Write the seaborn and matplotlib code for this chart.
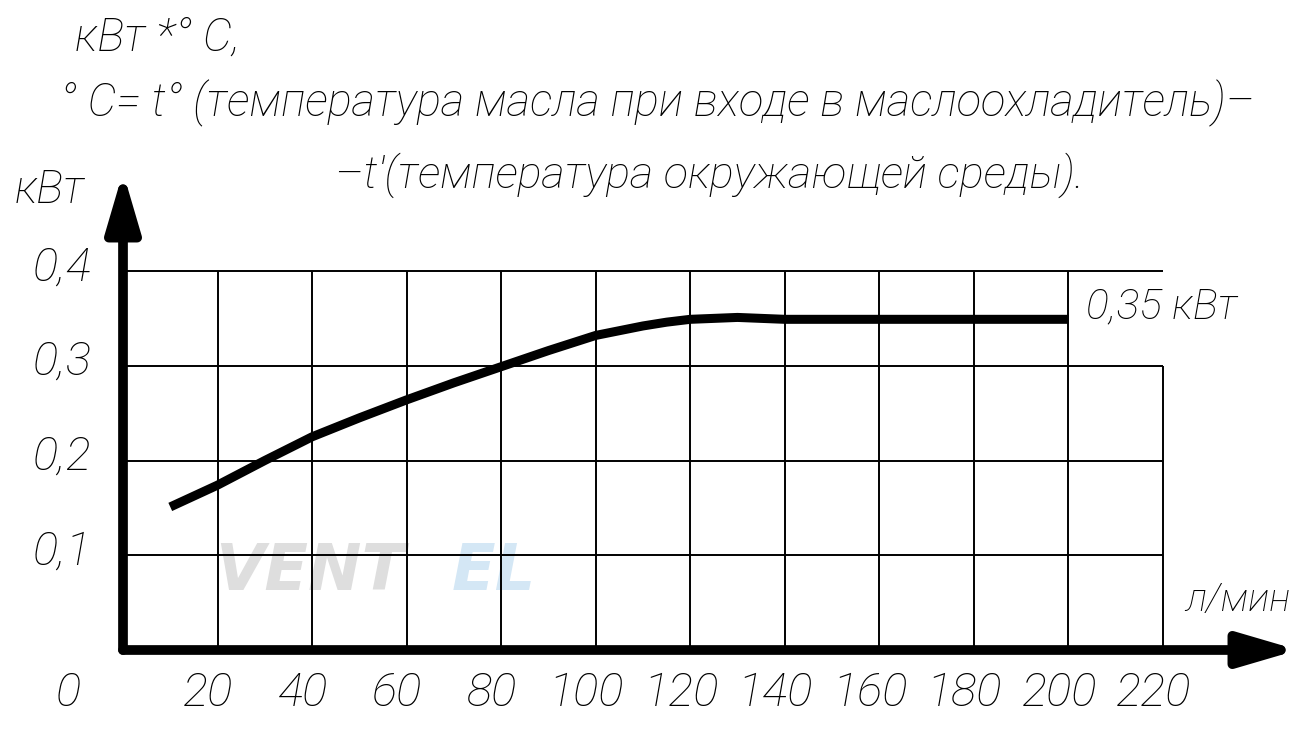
import numpy as np
import pandas as pd
import seaborn as sns
import matplotlib.pyplot as plt

# ---------------- data ----------------
flow = [10, 20, 30, 40, 50, 60, 70, 80, 90, 100, 110, 115, 120, 125, 130, 135, 140, 200]
power = [0.151, 0.174, 0.200, 0.225, 0.245, 0.264, 0.282, 0.299, 0.316, 0.332,
         0.342, 0.346, 0.349, 0.350, 0.351, 0.350, 0.349, 0.349]
x_ticks = [20, 40, 60, 80, 100, 120, 140, 160, 180, 200, 220]
x_labels = ['20', '40', '60', '80', '100', '120', '140', '160', '180', '200', '220']
y_ticks = [0.1, 0.2, 0.3, 0.4]
y_labels = ['0,1', '0,2', '0,3', '0,4']

sns.set_theme(style='white')
plt.rcParams['font.family'] = ['Roboto', 'DejaVu Sans']
plt.rcParams['font.style'] = 'italic'
plt.rcParams['font.weight'] = 'light'
plt.rcParams['text.color'] = 'black'

W, H = 1301, 735
x0px, y0px = 123, 650      # pixel of origin
sx, sy = 4.727, 947.5      # pixels per unit


def d(px, py):
    # pixel position -> data coords
    return (px - x0px) / sx, (y0px - py) / sy


fig = plt.figure(figsize=(W / 100, H / 100), dpi=100)
ax = fig.add_axes([0, 0, 1, 1])
ax.set_xlim(-x0px / sx, (W - x0px) / sx)
ax.set_ylim(-(H - y0px) / sy, y0px / sy)
ax.axis('off')

# watermark
wx, wy = d(215, 572)
ax.text(wx, wy, 'VENT', color='#dedede', fontsize=46, fontweight='bold',
        va='center', ha='left', zorder=0, family='DejaVu Sans')
wx, wy = d(452, 572)
ax.text(wx, wy, 'EL', color='#d4e7f5', fontsize=46, fontweight='bold',
        va='center', ha='left', zorder=0, family='DejaVu Sans')

# grid
ax.hlines(y_ticks, 0, x_ticks[-1], color='black', lw=1.4, zorder=1)
tops = [y_ticks[-1]] * (len(x_ticks) - 1) + [y_ticks[-2]]
ax.vlines(x_ticks, 0, tops, color='black', lw=1.4, zorder=1)

# curve
df = pd.DataFrame({'flow': flow, 'power': power})
sns.lineplot(data=df, x='flow', y='power', ax=ax, color='black', lw=6.5,
             solid_capstyle='butt', zorder=3)

# axes with arrows
arrow = dict(arrowstyle='-|>,head_length=2.9,head_width=0.85', lw=7, color='black',
             shrinkA=0, shrinkB=0, joinstyle='round', capstyle='round')
ax.annotate('', xy=d(1298, 650), xytext=d(123, 650), arrowprops=arrow, zorder=4)
ax.annotate('', xy=d(123, 172), xytext=d(123, 650), arrowprops=arrow, zorder=4)

fs = 34
# tick labels
for xt, lab in zip(x_ticks, x_labels):
    ax.text(xt - 2, d(0, 693)[1], lab, ha='center', va='center', fontsize=fs)
ax.text(*d(68, 693), '0', ha='center', va='center', fontsize=fs)
for yt, lab in zip(y_ticks, y_labels):
    ax.text(d(92, 0)[0], yt + 0.004, lab, ha='right', va='center', fontsize=fs)

# annotations: (text, left px, centre px, width px in the reference)
notes = [
    ('кВт', 15, 190, 70),
    ('л/мин', 1185, 600, 105),
    ('0,35 кВт', 1086, 307, 151),
    ('кВт *° С,', 75, 38, 165),
    ('° С= t° (температура масла при входе в маслоохладитель)–', 60, 103, 1195),
    ("–t'(температура окружающей среды).", 335, 175, 750),
]
texts = []
for s, lx, cy, wd in notes:
    t = ax.text(*d(lx, cy), s, ha='left', va='center', fontsize=30)
    texts.append((t, wd))
fig.canvas.draw()
r = fig.canvas.get_renderer()
for t, wd in texts:
    w = t.get_window_extent(r).width
    t.set_fontsize(30 * wd / w)

plt.savefig('out.png', dpi=100)
